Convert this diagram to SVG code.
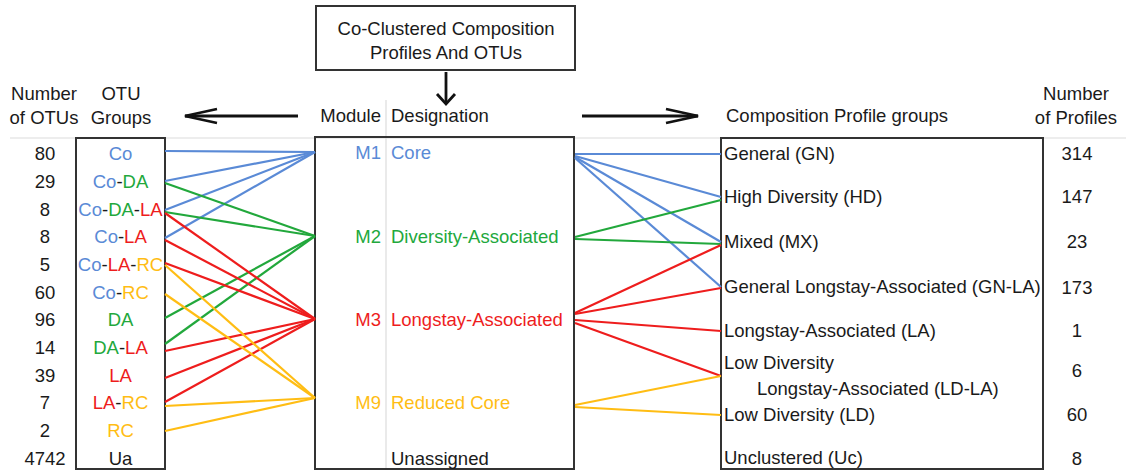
<svg xmlns="http://www.w3.org/2000/svg" width="1126" height="471" viewBox="0 0 1126 471">
<style>
text{font-family:"Liberation Sans",Arial,sans-serif;font-size:18.5px;fill:#1a1a1a}
.c{text-anchor:middle}
.e{text-anchor:end}
.box{fill:none;stroke:#333;stroke-width:2}
.grid{stroke:#dcdcdc;stroke-width:1.2}
.arr{fill:none;stroke:#111;stroke-width:2.8}
.B{fill:#5a8ad6}.G{fill:#22a83c}.R{fill:#ee1d1d}.Y{fill:#ffbd14}.K{fill:#1a1a1a}
.lb{stroke:#5a8ad6}.lg{stroke:#22a83c}.lr{stroke:#ee1d1d}.ly{stroke:#ffbd14}
#connectors line{stroke-width:2.2}
</style>
<rect width="1126" height="471" fill="#fff"/>
<g id="gridlines">
<line class="grid" x1="10" y1="138" x2="1126" y2="138"/>
<line class="grid" x1="386" y1="100" x2="386" y2="469"/>
</g>
<g id="source">
<rect class="box" x="316" y="6" width="259" height="64" fill="#fff"/>
<text class="c" x="446" y="35">Co-Clustered Composition</text>
<text class="c" x="446" y="59">Profiles And OTUs</text>
</g>
<g id="arrows">
<line class="arr" x1="446" y1="72" x2="446" y2="104"/>
<polyline class="arr" points="437,94 446,104 455,94"/>
<line class="arr" x1="298" y1="116" x2="185" y2="116"/>
<polyline class="arr" points="217,109 185,116 217,123"/>
<line class="arr" x1="582" y1="116" x2="698" y2="116"/>
<polyline class="arr" points="666,109 698,116 666,123"/>
</g>
<g id="headers">
<text class="c" x="44" y="100">Number</text>
<text class="c" x="44" y="124">of OTUs</text>
<text class="c" x="121" y="100">OTU</text>
<text class="c" x="121" y="124">Groups</text>
<text class="e" x="381" y="122">Module</text>
<text x="391" y="122">Designation</text>
<text x="726" y="122">Composition Profile groups</text>
<text class="c" x="1076" y="100">Number</text>
<text class="c" x="1076" y="124">of Profiles</text>
</g>
<g id="otu-counts">
<text class="c" x="45" y="160">80</text>
<text class="c" x="45" y="188">29</text>
<text class="c" x="45" y="215.5">8</text>
<text class="c" x="45" y="243">8</text>
<text class="c" x="45" y="271">5</text>
<text class="c" x="45" y="298.5">60</text>
<text class="c" x="45" y="326">96</text>
<text class="c" x="45" y="354">14</text>
<text class="c" x="45" y="381.5">39</text>
<text class="c" x="45" y="409">7</text>
<text class="c" x="45" y="437">2</text>
<text class="c" x="45" y="465">4742</text>
</g>
<g id="otu-groups">
<rect class="box" x="76" y="138" width="89" height="331"/>
<text class="c" x="120.5" y="160"><tspan class="B">Co</tspan></text>
<text class="c" x="120.5" y="188"><tspan class="B">Co</tspan>-<tspan class="G">DA</tspan></text>
<text class="c" x="120.5" y="215.5"><tspan class="B">Co</tspan>-<tspan class="G">DA</tspan>-<tspan class="R">LA</tspan></text>
<text class="c" x="120.5" y="243"><tspan class="B">Co</tspan>-<tspan class="R">LA</tspan></text>
<text class="c" x="120.5" y="271"><tspan class="B">Co</tspan>-<tspan class="R">LA</tspan>-<tspan class="Y">RC</tspan></text>
<text class="c" x="120.5" y="298.5"><tspan class="B">Co</tspan>-<tspan class="Y">RC</tspan></text>
<text class="c" x="120.5" y="326"><tspan class="G">DA</tspan></text>
<text class="c" x="120.5" y="354"><tspan class="G">DA</tspan>-<tspan class="R">LA</tspan></text>
<text class="c" x="120.5" y="381.5"><tspan class="R">LA</tspan></text>
<text class="c" x="120.5" y="409"><tspan class="R">LA</tspan>-<tspan class="Y">RC</tspan></text>
<text class="c" x="120.5" y="437"><tspan class="Y">RC</tspan></text>
<text class="c" x="120.5" y="465">Ua</text>
</g>
<g id="modules">
<rect class="box" x="315" y="137" width="259" height="332"/>
<text class="e B" x="381" y="159">M1</text><text class="B" x="391" y="159">Core</text>
<text class="e G" x="381" y="243">M2</text><text class="G" x="391" y="243">Diversity-Associated</text>
<text class="e R" x="381" y="326">M3</text><text class="R" x="391" y="326">Longstay-Associated</text>
<text class="e Y" x="381" y="409">M9</text><text class="Y" x="391" y="409">Reduced Core</text>
<text x="391" y="465">Unassigned</text>
</g>
<g id="profiles">
<rect class="box" x="721" y="138" width="322" height="331"/>
<text x="724" y="160">General (GN)</text>
<text x="724" y="203">High Diversity (HD)</text>
<text x="724" y="248">Mixed (MX)</text>
<text x="724" y="293">General Longstay-Associated (GN-LA)</text>
<text x="724" y="337">Longstay-Associated (LA)</text>
<text x="724" y="369">Low Diversity</text>
<text x="757" y="395">Longstay-Associated (LD-LA)</text>
<text x="724" y="421">Low Diversity (LD)</text>
<text x="724" y="464">Unclustered (Uc)</text>
</g>
<g id="profile-counts">
<text class="c" x="1077" y="160">314</text>
<text class="c" x="1077" y="203">147</text>
<text class="c" x="1077" y="248">23</text>
<text class="c" x="1077" y="294">173</text>
<text class="c" x="1077" y="337">1</text>
<text class="c" x="1077" y="377">6</text>
<text class="c" x="1077" y="421">60</text>
<text class="c" x="1077" y="465">8</text>
</g>
<g id="connectors">
<line class="lb" x1="165" y1="151" x2="315" y2="152"/>
<line class="lb" x1="165" y1="181" x2="315" y2="152"/>
<line class="lb" x1="165" y1="210" x2="315" y2="152"/>
<line class="lb" x1="165" y1="238" x2="315" y2="152"/>
<line class="lg" x1="165" y1="183" x2="315" y2="236"/>
<line class="lg" x1="165" y1="212" x2="315" y2="236"/>
<line class="lg" x1="165" y1="318" x2="315" y2="236"/>
<line class="lg" x1="165" y1="344" x2="315" y2="236"/>
<line class="lr" x1="165" y1="213" x2="315" y2="319"/>
<line class="lr" x1="165" y1="240" x2="315" y2="319"/>
<line class="lr" x1="165" y1="263" x2="315" y2="319"/>
<line class="lr" x1="165" y1="351" x2="315" y2="319"/>
<line class="lr" x1="165" y1="378" x2="315" y2="319"/>
<line class="lr" x1="165" y1="402" x2="315" y2="319"/>
<line class="ly" x1="165" y1="265" x2="315" y2="398"/>
<line class="ly" x1="165" y1="294" x2="315" y2="398"/>
<line class="ly" x1="165" y1="406" x2="315" y2="398"/>
<line class="ly" x1="165" y1="431" x2="315" y2="398"/>
<line class="lb" x1="575" y1="154" x2="721" y2="154"/>
<line class="lb" x1="575" y1="156" x2="721" y2="197"/>
<line class="lb" x1="575" y1="157" x2="721" y2="242"/>
<line class="lb" x1="575" y1="158" x2="721" y2="287"/>
<line class="lg" x1="575" y1="237" x2="721" y2="200"/>
<line class="lg" x1="575" y1="239" x2="721" y2="244"/>
<line class="lr" x1="575" y1="313" x2="721" y2="245"/>
<line class="lr" x1="575" y1="314" x2="721" y2="288"/>
<line class="lr" x1="575" y1="320" x2="721" y2="331"/>
<line class="lr" x1="575" y1="323" x2="721" y2="376"/>
<line class="ly" x1="575" y1="405" x2="721" y2="376"/>
<line class="ly" x1="575" y1="407" x2="721" y2="415"/>
</g>
</svg>
